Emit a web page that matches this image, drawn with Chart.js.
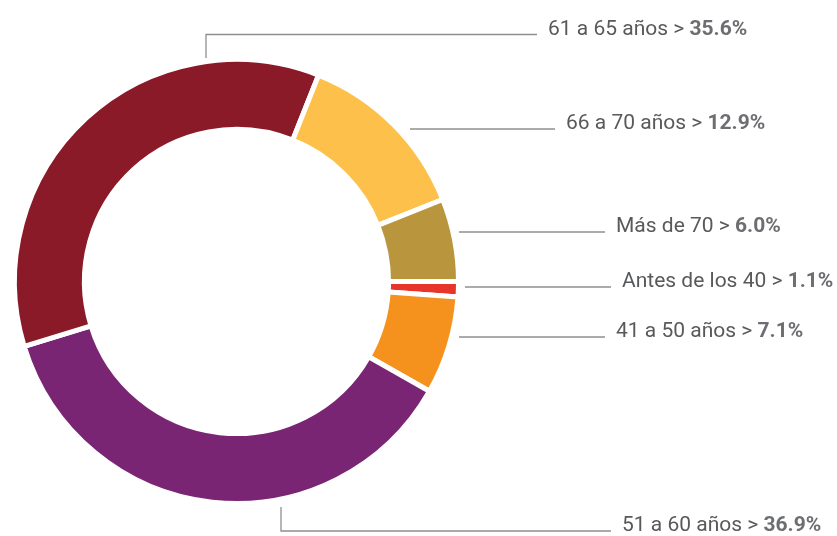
<!DOCTYPE html>
<html>
<head>
<meta charset="utf-8">
<script src="https://cdn.jsdelivr.net/npm/chart.js@4/dist/chart.umd.min.js"></script>
<style>
  html, body { margin: 0; padding: 0; background: #ffffff; }
  #wrap { width: 837px; height: 536px; }
</style>
</head>
<body>
<div id="wrap"><canvas id="ageChart" width="837" height="536"></canvas></div>
<script>
// datos del gráfico (empieza a las 3 en punto, sentido horario)
const ageLabels = ['Antes de los 40', '41 a 50 años', '51 a 60 años', '61 a 65 años', '66 a 70 años', 'Más de 70'];
const agePercent = [1.1, 7.1, 36.9, 35.6, 12.9, 6.0];
const sliceColors = ['#E8352B', '#F5921E', '#7A2574', '#8B1A28', '#FDC04B', '#B9963D'];

// posición de las líneas guía de cada etiqueta (mismo orden que ageLabels)
const leaderLines = [
    [[465, 287], [611, 287]],
    [[459, 337], [605, 337]],
    [[281, 507], [281, 531], [611, 531]],
    [[206, 58], [206, 34.5], [537, 34.5]],
    [[410, 129], [555, 129]],
    [[459, 232], [605, 232]]
];

// plugin para dibujar etiquetas con línea guía
const leaderLabels = {
    id: 'leaderLabels',
    afterDraw(chart) {
        const ctx = chart.ctx;
        const values = chart.data.datasets[0].data;
        ctx.save();
        chart.data.labels.forEach((label, i) => {
            const pts = leaderLines[i];
            ctx.beginPath();
            ctx.strokeStyle = '#8f8f8f';
            ctx.lineWidth = 1.3;
            ctx.moveTo(pts[0][0], pts[0][1]);
            for (let k = 1; k < pts.length; k++) ctx.lineTo(pts[k][0], pts[k][1]);
            ctx.stroke();

            const end = pts[pts.length - 1];
            let x = end[0] + 11;
            const y = end[1];
            ctx.textBaseline = 'alphabetic';
            ctx.textAlign = 'left';

            const normal = label + ' > ';
            ctx.font = '21px Roboto';
            ctx.fillStyle = '#58595B';
            ctx.fillText(normal, x, y);
            x += ctx.measureText(normal).width;

            ctx.font = 'bold 21px Roboto';
            ctx.fillStyle = '#6D6E71';
            ctx.fillText(values[i].toFixed(1) + '%', x, y);
        });
        ctx.restore();
    }
};

new Chart(document.getElementById('ageChart'), {
    type: 'doughnut',
    data: {
        labels: ageLabels,
        datasets: [{
            data: agePercent,
            backgroundColor: sliceColors,
            borderColor: '#ffffff',
            borderWidth: 5
        }]
    },
    options: {
        responsive: false,
        animation: false,
        rotation: 90,
        cutout: '68.5%',
        layout: {
            padding: { left: 12, top: 57, right: 376, bottom: 30 }
        },
        plugins: {
            legend: { display: false },
            tooltip: { enabled: false }
        }
    },
    plugins: [leaderLabels]
});
</script>
</body>
</html>
